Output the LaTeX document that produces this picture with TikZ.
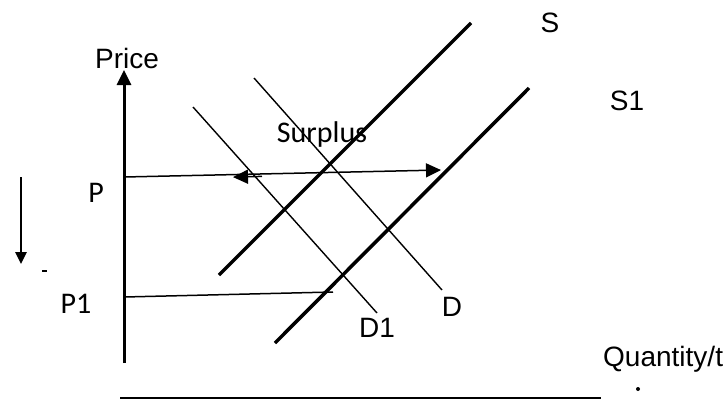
\documentclass[tikz,border=0pt]{standalone}
\usepackage{fontspec}
\setmainfont{Liberation Sans}
\newfontfamily\calfont{Carlito}
\usetikzlibrary{arrows.meta}
\tikzset{
  lbl/.style={inner sep=0pt, anchor=base, font=\fontsize{28}{30}\selectfont},
  clbl/.style={inner sep=0pt, anchor=base, font=\calfont\fontsize{30}{32}\selectfont},
  axisline/.style={line width=3pt},
  supply/.style={line width=3.5pt},
  demand/.style={line width=1.4pt},
  guide/.style={line width=1.5pt},
  tip/.style={-{Triangle[length=15pt,width=14pt]}},
  smalltip/.style={-{Triangle[length=12pt,width=11pt]}}
}
\begin{document}
\begin{tikzpicture}[x=1pt,y=-1pt]
\useasboundingbox (0,0) rectangle (728,400);
% coordinates
\coordinate (ax0) at (124,363);
\coordinate (ax1) at (124,70);
\coordinate (pL) at (124,177);
\coordinate (pR) at (441,170);
\coordinate (pm0) at (262,176.4);
\coordinate (pm1) at (233,177.1);
\coordinate (p1L) at (124,297);
\coordinate (p1R) at (333,292);
\coordinate (s0) at (219,275);
\coordinate (s1) at (471,23);
\coordinate (t0) at (275,343);
\coordinate (t1) at (529,88);
\coordinate (d0) at (254,78);
\coordinate (d1) at (442,290);
\coordinate (e0) at (193,107);
\coordinate (e1) at (377,313);
\coordinate (b0) at (120,398);
\coordinate (b1) at (601,398);
\coordinate (da0) at (21,177);
\coordinate (da1) at (21,264);
\coordinate (m0) at (42,271);
\coordinate (m1) at (47,271);
\coordinate (dot) at (638,389);
% axis
\draw[axisline, tip] (ax0) -- (ax1);
\draw[line width=2pt] (b0) -- (b1);
% curves
\draw[supply] (s0) -- (s1);
\draw[supply] (t0) -- (t1);
\draw[demand] (d0) -- (d1);
\draw[demand] (e0) -- (e1);
% price lines
\draw[guide, tip] (pL) -- (pR);
\draw[guide, tip] (pm0) -- (pm1);
\draw[guide] (p1L) -- (p1R);
% down arrow
\draw[line width=2.5pt, smalltip] (da0) -- (da1);
\draw[line width=1.2pt] (m0) -- (m1);
\fill (dot) circle (2pt);
% labels
\node[lbl] (price) at (127,68) {Price};
\node[lbl] (slab) at (550,32) {S};
\node[lbl] (s1lab) at (627,110) {S1};
\node[lbl] (dlab) at (452,316) {D};
\node[lbl] (d1lab) at (377,337) {D1};
\node[lbl, anchor=base west] (qlab) at (603,366) {Quantity/t};
\node[clbl] (surplus) at (322,142) {Surplus};
\node[clbl] (plab) at (96,202) {P};
\node[clbl] (p1lab) at (76,313) {P1};
\end{tikzpicture}
\end{document}
